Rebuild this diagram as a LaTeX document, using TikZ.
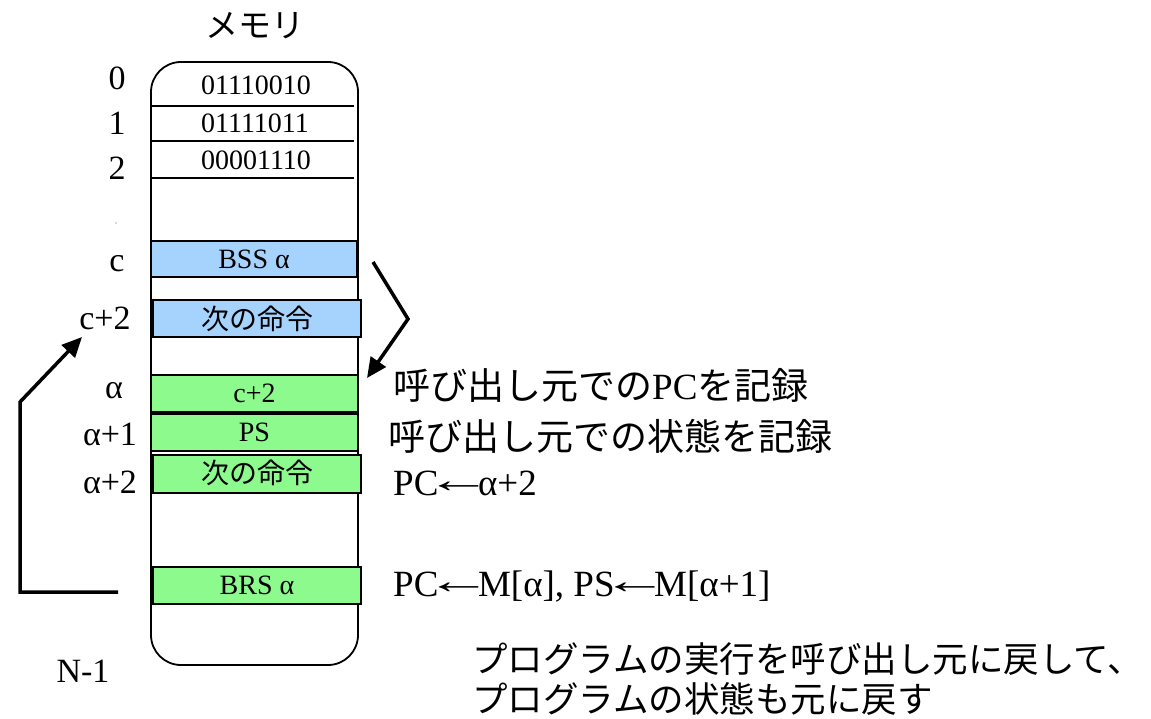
\documentclass[tikz,border=0pt]{standalone}
\usepackage{fontspec}
\usepackage{graphicx}
\setmainfont{Liberation Serif}
\newfontfamily\jp{Noto Sans CJK JP}
\usetikzlibrary{arrows.meta}
\definecolor{cellblue}{HTML}{A6D3FE}
\definecolor{cellgreen}{HTML}{8CFA8C}
\newcommand{\larr}{\kern-13pt\raisebox{3pt}{\scalebox{1.8}[1.0]{←}}\kern-14pt}
\tikzset{
  mem/.style={draw, line width=1.8pt, rounded corners=30pt, inner sep=0pt},
  rowline/.style={line width=1.6pt},
  cellbox/.style={draw, line width=1.5pt, inner sep=0pt, font=\fontsize{28}{30}\selectfont},
  bluebox/.style={cellbox, fill=cellblue},
  greenbox/.style={cellbox, fill=cellgreen},
  celltext/.style={anchor=base, inner sep=0pt, font=\fontsize{28}{30}\selectfont},
  addr/.style={anchor=base, inner sep=0pt, font=\fontsize{34}{36}\selectfont},
  note/.style={anchor=base west, inner sep=0pt, font=\fontsize{37}{40}\selectfont},
  flow/.style={line width=3.5pt, -{Triangle[length=20pt,width=18pt]}},
}
\begin{document}
\begin{tikzpicture}[x=1pt,y=1pt]
\path[use as bounding box] (0,0) rectangle (1151,-719);
% title
\node[anchor=base, inner sep=0pt, font=\jp\fontsize{33}{36}\selectfont] (title) at (255,-38) {メモリ};
% memory outline
\node[mem, minimum width=207pt, minimum height=603pt] (mem) at (254.5,-363.5) {};
\draw[rowline] (151,-106) -- (354,-106);
\draw[rowline] (151,-141) -- (354,-141);
\draw[rowline] (151,-178) -- (354,-178);
\node[celltext] (r0) at (256,-95) {01110010};
\node[celltext] (r1) at (255,-133) {01111011};
\node[celltext] (r2) at (256,-170) {00001110};
% boxes
\node[bluebox, minimum width=206pt, minimum height=36pt] (bss) at (254,-259) {BSS α};
\node[bluebox, minimum width=208pt, minimum height=37pt] (next1) at (257,-318.5) {\jp 次の命令};
\node[greenbox, minimum width=207pt, minimum height=37pt] (a0) at (254.5,-393.5) {c+2};
\node[greenbox, minimum width=207pt, minimum height=37pt] (a1) at (254.5,-432.5) {PS};
\node[greenbox, minimum width=208pt, minimum height=38pt] (a2) at (257,-474) {\raisebox{4pt}{\jp 次の命令}};
\node[greenbox, minimum width=208pt, minimum height=37pt] (brs) at (257,-585.5) {BRS α};
% addresses
\node[addr] (l0) at (117,-90) {0};
\node[addr] (l1) at (117,-135) {1};
\node[addr] (l2) at (117,-180) {2};
\fill[gray!50] (116,-223) circle (1pt);
\node[addr] (lc) at (117,-272) {c};
\node[addr] (lc2) at (105,-329) {c+2};
\node[addr] (la) at (114,-398) {α};
\node[addr] (la1) at (110,-445) {α+1};
\node[addr] (la2) at (110,-493) {α+2};
\node[addr] (ln) at (83,-682) {N-1};
% notes
\node[note] (n1) at (393,-399) {{\jp 呼び出し元での}PC{\jp を記録}};
\node[note] (n2) at (388,-450) {\jp 呼び出し元での状態を記録};
\node[note] (n3) at (393,-495) {PC\larr α+2};
\node[note] (n4) at (393,-596) {PC\larr M[α], PS\larr M[α+1]};
\node[note, text depth=0pt, font=\fontsize{35.5}{38}\selectfont] (n5) at (472,-672) {\jp プログラムの実行を呼び出し元に戻して、};
\node[note, text depth=0pt, font=\fontsize{35.5}{38}\selectfont] (n6) at (472,-712) {\jp プログラムの状態も元に戻す};
% arrows
\coordinate (s1) at (373,-262);
\coordinate (k1) at (408,-319);
\coordinate (t1) at (367,-378);
\draw[flow] (s1) -- (k1) -- (t1);
\coordinate (s2) at (118,-592);
\coordinate (k2a) at (20,-592);
\coordinate (k2b) at (20,-402);
\coordinate (t2) at (82,-337);
\draw[flow] (s2) -- (k2a) -- (k2b) -- (t2);
\end{tikzpicture}
\end{document}
